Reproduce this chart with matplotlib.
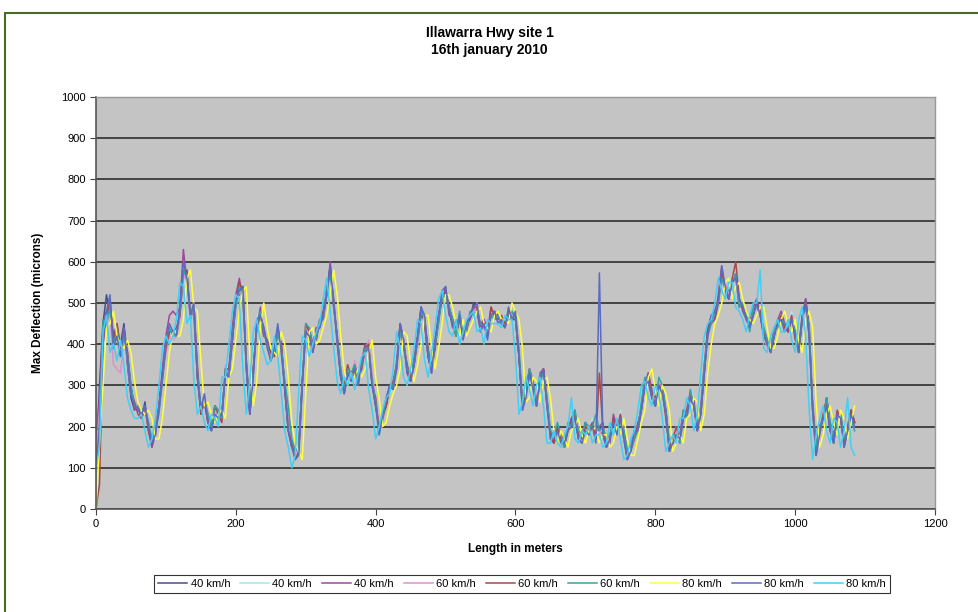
import matplotlib
matplotlib.use("Agg")
import matplotlib.pyplot as plt
from matplotlib.patches import Rectangle
import numpy as np

plt.rcParams['font.family'] = ['Liberation Sans', 'DejaVu Sans']

# x positions (metres), 5 m steps
length_m = list(range(0, 1090, 5))

s1 = [120,300,450,520,470,420,410,400,450,350,270,240,250,220,260,190,150,200,250,330,
      390,430,430,420,470,570,580,460,500,320,230,260,210,190,250,220,230,330,320,410,
      510,520,540,340,230,340,440,470,420,410,360,390,430,400,290,190,150,140,150,310,
      430,420,400,410,460,460,520,590,490,420,320,280,330,330,340,320,340,400,390,300,
      250,200,230,250,300,310,340,450,410,330,310,350,420,490,450,370,330,410,470,510,
      520,490,460,420,460,430,450,460,500,480,430,460,430,470,480,470,450,440,470,460,
      460,370,240,290,340,310,250,310,340,270,170,160,190,180,150,190,220,220,170,160,
      210,180,200,180,200,180,150,180,210,200,220,170,120,150,190,190,240,300,330,270,
      250,300,280,240,140,160,180,160,220,240,270,250,190,230,330,440,470,460,500,580,
      530,510,550,570,490,500,460,450,470,510,470,420,410,380,420,460,460,450,430,460,
      430,380,460,510,440,240,130,200,220,270,190,160,220,230,150,190,240,210]

s2 = [140,230,380,430,480,390,420,370,420,380,300,260,230,240,240,210,170,180,230,310,
      410,450,410,440,490,560,540,480,480,340,250,280,230,210,230,240,210,350,340,430,
      490,530,520,360,250,320,460,490,440,390,380,370,450,380,310,210,170,120,130,290,
      450,440,380,430,440,480,540,570,510,400,340,300,350,310,360,300,360,380,410,320,
      270,180,210,270,280,290,360,430,390,350,330,370,400,470,470,390,350,390,450,530,
      540,470,440,440,480,410,430,480,470,500,450,440,410,490,460,450,470,460,490,480,
      480,390,260,270,320,290,270,330,320,250,190,180,210,160,170,210,200,240,190,180,
      190,200,220,160,180,200,170,160,230,180,240,190,140,130,170,210,260,320,310,290,
      270,320,300,220,160,180,200,180,240,220,290,270,210,250,350,420,450,480,520,560,
      550,530,570,550,510,480,480,430,490,490,490,440,390,400,440,440,480,430,450,480,
      410,400,480,490,420,260,150,180,240,250,210,180,240,210,170,210,220,190]

s3 = [170,270,440,480,490,420,450,390,420,380,300,240,250,220,240,210,150,180,250,340,
      420,470,480,470,490,630,550,480,470,320,250,260,230,190,250,240,230,330,340,440,
      520,560,510,360,230,340,440,490,420,410,380,370,430,400,290,210,150,140,150,310,
      430,440,400,440,440,480,520,600,490,420,340,280,330,330,340,300,360,400,390,320,
      250,200,230,250,300,290,360,450,390,350,310,370,420,490,450,370,350,390,470,510,
      540,470,460,440,460,430,450,460,490,480,450,460,430,490,460,470,450,460,470,480,
      460,370,260,290,320,310,250,330,340,250,190,160,190,180,170,190,220,240,170,180,
      210,180,200,180,200,210,150,160,230,200,220,190,140,150,170,210,240,300,330,290,
      250,300,300,240,160,160,180,180,240,220,270,270,190,250,350,440,450,460,520,590,
      530,510,550,570,510,480,460,450,490,510,470,440,410,380,420,460,480,450,430,460,
      430,380,460,510,440,260,150,200,220,270,210,180,220,230,170,190,240,210]

s4 = [130,240,400,440,480,350,340,330,410,360,280,260,250,240,240,200,170,200,240,310,
      380,420,410,420,470,570,550,460,500,340,250,280,230,210,240,220,210,350,320,410,
      500,530,520,340,250,320,450,470,440,390,370,390,440,380,310,200,170,140,140,290,
      450,420,380,420,460,460,530,570,500,400,330,300,350,310,360,320,340,380,410,320,
      270,190,210,270,290,310,340,430,410,340,330,350,400,470,470,390,330,400,450,530,
      520,490,440,430,480,410,440,480,470,500,440,440,420,470,480,450,470,440,490,460,
      480,390,240,270,340,290,270,310,330,270,170,180,200,160,170,200,200,230,190,160,
      200,200,210,170,180,200,160,180,210,190,230,170,130,150,180,190,250,300,320,270,
      270,310,280,230,150,180,190,160,230,240,290,250,210,240,330,420,460,480,500,560,
      550,520,560,550,500,500,460,440,480,490,490,430,390,400,430,440,470,430,450,470,
      420,390,470,490,430,240,140,180,240,250,200,170,230,210,160,210,220,190]

s5 = [0,60,400,470,510,410,450,390,440,380,290,260,230,220,250,190,160,190,240,320,
      390,430,430,440,470,580,570,470,490,350,230,270,210,200,250,230,210,340,340,410,
      500,550,530,360,240,340,450,470,440,400,380,370,440,400,300,190,160,120,140,300,
      450,430,380,420,450,480,530,580,510,410,320,300,350,320,350,320,340,390,400,300,
      270,190,220,250,290,310,350,430,400,350,320,350,410,470,460,390,340,390,460,510,
      530,490,450,420,470,420,430,470,490,490,440,450,420,490,470,460,470,450,480,460,
      470,370,250,280,340,300,260,320,340,260,180,160,200,170,150,200,210,230,180,170,
      200,190,210,170,330,190,160,170,220,190,230,180,130,140,170,200,250,310,320,280,
      270,300,290,220,150,170,200,170,230,240,280,250,200,240,330,430,460,480,510,570,
      540,510,560,600,510,490,470,440,470,500,480,430,400,390,440,450,470,440,430,470,
      410,390,470,500,420,250,150,190,230,260,190,170,240,220,160,200,240,210]

s6 = [200,190,460,450,490,390,440,370,420,370,300,250,250,240,250,210,170,190,230,310,
      410,440,420,420,480,580,560,470,490,330,250,270,230,200,250,240,220,340,320,420,
      490,540,520,350,250,330,450,480,430,400,360,380,430,390,310,250,170,140,150,300,
      450,440,390,420,460,460,540,570,500,410,340,290,340,330,350,310,350,390,390,310,
      260,180,220,270,290,300,350,430,400,340,330,360,410,480,460,380,340,400,450,520,
      520,490,460,420,480,430,430,480,470,480,450,440,430,470,460,470,450,460,470,480,
      460,390,260,290,340,310,250,330,320,270,190,180,210,180,150,210,200,240,190,180,
      210,200,200,230,190,200,170,180,210,180,220,190,140,150,170,190,260,320,310,270,
      250,320,300,240,160,180,180,160,240,220,290,250,210,230,350,420,450,480,500,560,
      530,530,550,570,490,500,480,430,490,490,470,440,410,380,440,440,460,450,450,460,
      430,380,460,490,440,240,150,200,220,270,210,160,220,230,170,190,220,190]

s7 = [0,160,300,440,450,480,420,400,390,410,380,310,260,240,230,240,220,170,170,220,
      300,380,430,420,420,460,560,580,490,480,360,250,260,230,210,230,240,220,320,340,
      410,480,530,540,370,250,310,440,500,440,390,380,370,430,400,320,210,160,140,120,
      280,430,440,400,410,440,470,520,580,520,420,340,300,330,320,340,320,340,380,410,
      320,270,200,210,250,280,300,340,430,420,350,310,350,400,470,470,390,340,390,450,
      520,520,490,450,420,460,420,440,460,480,490,450,440,430,470,480,460,460,450,500,
      480,460,390,260,270,320,310,260,310,320,270,190,160,190,170,150,190,200,220,180,
      160,190,190,200,160,180,180,150,160,200,180,220,170,130,130,170,210,240,320,340,
      290,250,300,280,240,140,160,180,160,220,230,270,260,190,230,330,400,450,470,500,
      550,560,510,540,550,510,480,460,450,470,490,490,440,390,390,420,460,480,450,430,
      460,410,380,460,480,440,260,150,180,230,250,210,180,240,220,170,210,250]

s8 = [100,200,410,480,520,390,420,370,440,360,280,250,240,230,250,200,160,180,240,320,
      410,450,430,420,490,600,560,470,500,320,240,280,210,190,230,220,230,330,320,410,
      510,530,540,340,230,320,460,470,440,390,360,390,450,380,290,190,150,120,130,300,
      430,420,380,430,440,470,520,590,500,400,320,280,330,310,340,300,360,380,390,300,
      250,180,230,270,300,290,340,450,410,330,310,350,420,490,470,370,330,410,470,530,
      540,480,440,440,470,410,450,470,490,500,430,450,410,470,480,450,460,440,490,460,
      480,370,240,270,330,290,250,310,340,250,170,170,190,160,160,190,200,220,170,160,
      190,180,200,160,573,180,150,170,210,180,220,170,120,140,190,190,240,300,310,270,
      250,300,280,230,140,160,180,170,220,230,270,250,190,230,330,420,470,480,500,590,
      540,510,550,560,510,490,460,440,470,500,470,420,400,380,420,450,460,430,440,460,
      420,380,460,500,420,240,130,180,220,250,190,160,230,220,150,190,230,200]

s9 = [100,150,430,470,380,400,360,410,350,270,240,220,220,230,190,150,170,220,300,390,
      420,400,420,460,550,540,450,470,310,230,250,210,190,230,220,200,320,320,400,480,
      520,510,340,230,310,430,460,410,380,350,360,420,370,280,190,150,100,130,290,420,
      410,370,400,430,450,510,560,480,390,310,280,320,300,330,290,330,370,380,290,240,
      170,200,240,270,280,340,430,390,320,300,340,390,460,450,360,320,380,440,510,530,
      470,430,420,460,400,430,460,470,480,430,440,400,460,450,450,450,440,470,460,460,
      370,230,260,320,290,250,300,320,250,160,160,190,160,150,180,200,270,170,160,190,
      180,200,160,180,180,150,160,210,180,220,170,120,130,170,190,240,300,310,270,250,
      300,280,220,140,160,180,160,220,220,270,250,190,230,330,420,450,460,500,560,530,
      510,550,550,490,480,460,430,470,500,500,580,390,380,420,440,460,430,430,460,410,
      380,460,490,420,240,120,180,220,250,190,160,220,210,150,190,270,150,130]

series = [s1, s2, s3, s4, s5, s6, s7, s8, s9]
labels = ["40 km/h", "40 km/h", "40 km/h", "60 km/h", "60 km/h", "60 km/h",
          "80 km/h", "80 km/h", "80 km/h"]
colors = ["#4b4b8f", "#a8e4ee", "#9b4a9b", "#e08fd0", "#a84848", "#3aa0a0",
          "#ffff40", "#5b6bc0", "#42cff7"]

fig = plt.figure(figsize=(9.79, 6.12), dpi=100)
fig.patch.set_facecolor("white")

# outer frame
fig.add_artist(Rectangle((5/979, -0.01), 1.0, 1 - 13/612 + 0.01, transform=fig.transFigure,
                         fill=False, edgecolor="#4a6a2a", linewidth=1.5))

ax = fig.add_axes([96/979, 1 - 509/612, (935 - 96)/979, (509 - 97)/612])
ax.set_facecolor("#c4c4c4")

for ys, lab, c in zip(series, labels, colors):
    ax.plot(length_m, ys, color=c, linewidth=1.1, label=lab)

ax.set_xlim(0, 1200)
ax.set_ylim(0, 1000)
ax.set_xticks(range(0, 1201, 200))
ax.set_yticks(range(0, 1001, 100))
ax.yaxis.grid(True, color="#222222", linewidth=1.1)
ax.set_axisbelow(True)
ax.tick_params(axis="both", labelsize=8, length=4, direction="out", color="#444444")
for side in ["left", "bottom"]:
    ax.spines[side].set_color("#555555")
    ax.spines[side].set_linewidth(1.2)
for side in ["top", "right"]:
    ax.spines[side].set_color("#999999")
    ax.spines[side].set_linewidth(1.0)

ax.set_xlabel("Length in meters", fontsize=8.5, fontweight="bold", labelpad=10)
ax.set_ylabel("Max Deflection (microns)", fontsize=8.5, fontweight="bold", labelpad=12)

fig.text(0.5, 1 - 33/612, "Illawarra Hwy site 1", ha="center", va="center",
         fontsize=10, fontweight="bold")
fig.text(0.5, 1 - 50/612, "16th january 2010", ha="center", va="center",
         fontsize=10, fontweight="bold")

leg = fig.legend(loc="center", bbox_to_anchor=(522/979, 1 - 584/612), ncol=9,
                 fontsize=8, frameon=True, fancybox=False, edgecolor="black",
                 handlelength=2.6, handletextpad=0.3, columnspacing=0.9,
                 borderpad=0.4)
leg.get_frame().set_linewidth(0.8)

fig.savefig("out.png", dpi=100)
